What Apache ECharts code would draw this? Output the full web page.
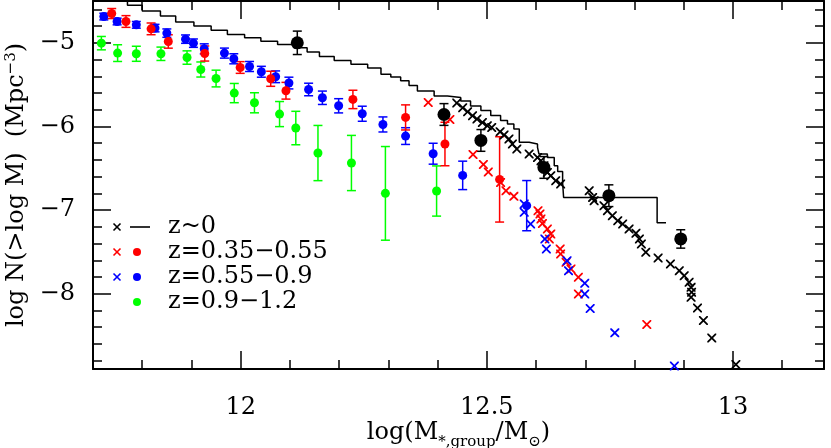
<!DOCTYPE html>
<html>
<head>
<meta charset="utf-8">
<script src="https://cdn.jsdelivr.net/npm/echarts@6/dist/echarts.min.js"></script>
<style>html,body{margin:0;padding:0;background:#fff}#chart{width:831px;height:448px}</style>
</head>
<body>
<div id="chart"></div>
<script>
// axis ranges and ticks
var X_MIN = 11.7, X_MAX = 13.185, Y_MIN = -8.9, Y_MAX = -4.5;
var xMajor = [12, 12.5, 13];
var xMinor = [11.8, 11.9, 12.1, 12.2, 12.3, 12.4, 12.6, 12.7, 12.8, 12.9, 13.1];
var yMajor = [-8, -7, -6, -5];
var yMinor = [-8.8, -8.6, -8.4, -8.2, -7.8, -7.6, -7.4, -7.2, -6.8, -6.6, -6.4, -6.2, -5.8, -5.6, -5.4, -5.2, -4.8, -4.6];

// z~0 cumulative step curve
var stepZ0 = [[11.70,-4.45],[11.736,-4.50],[11.77,-4.55],[11.80,-4.62],[11.837,-4.68],[11.868,-4.75],[11.905,-4.80],[11.94,-4.85],[11.973,-4.90],[12.008,-4.94],[12.041,-4.98],[12.075,-5.02],[12.108,-5.06],[12.135,-5.11],[12.16,-5.165],[12.19,-5.21],[12.224,-5.255],[12.258,-5.30],[12.285,-5.375],[12.305,-5.41],[12.325,-5.455],[12.342,-5.51],[12.359,-5.575],[12.393,-5.635],[12.42,-5.655],[12.447,-5.695],[12.467,-5.755],[12.488,-5.81],[12.508,-5.87],[12.528,-5.93],[12.542,-5.97],[12.555,-6.03],[12.566,-6.19],[12.586,-6.21],[12.603,-6.25],[12.606,-6.33],[12.623,-6.37],[12.637,-6.47],[12.644,-6.54],[12.654,-6.67],[12.656,-6.85],[12.846,-7.15],[12.864,-7.15]];

// crosses
var crossZ0 = [[12.439,-5.720],[12.451,-5.777],[12.461,-5.824],[12.471,-5.872],[12.480,-5.912],[12.491,-5.952],[12.501,-5.992],[12.510,-6.012],[12.527,-6.063],[12.535,-6.103],[12.545,-6.151],[12.552,-6.210],[12.561,-6.270],[12.586,-6.330],[12.603,-6.370],[12.610,-6.410],[12.616,-6.470],[12.623,-6.550],[12.630,-6.589],[12.640,-6.649],[12.650,-6.688],[12.708,-6.768],[12.715,-6.848],[12.718,-6.888],[12.738,-6.947],[12.745,-7.007],[12.755,-7.067],[12.766,-7.127],[12.776,-7.166],[12.789,-7.226],[12.803,-7.278],[12.810,-7.345],[12.814,-7.405],[12.823,-7.505],[12.848,-7.572],[12.873,-7.644],[12.891,-7.724],[12.901,-7.784],[12.911,-7.864],[12.915,-7.924],[12.916,-7.983],[12.915,-8.043],[12.928,-8.170],[12.940,-8.321],[12.957,-8.528],[13.006,-8.847]];
var crossLow = [[12.381,-5.713],[12.425,-5.916],[12.472,-6.335],[12.493,-6.454],[12.503,-6.545],[12.528,-6.669],[12.539,-6.768],[12.555,-6.836],[12.604,-7.007],[12.608,-7.047],[12.610,-7.106],[12.613,-7.159],[12.623,-7.226],[12.630,-7.286],[12.627,-7.345],[12.649,-7.465],[12.650,-7.525],[12.661,-7.625],[12.671,-7.704],[12.686,-7.804],[12.686,-8.002],[12.825,-8.369]];
var crossMid = [[12.576,-6.927],[12.576,-7.027],[12.589,-7.166],[12.618,-7.345],[12.621,-7.465],[12.663,-7.605],[12.666,-7.724],[12.699,-7.876],[12.699,-8.002],[12.710,-8.178],[12.760,-8.468],[12.881,-8.863]];

// filled points: [x, y, error]
var ptsZ0 = [[12.115,-5.00,0.14],[12.413,-5.857,0.13],[12.488,-6.167,0.13],[12.616,-6.49,0.13],[12.748,-6.828,0.13],[12.894,-7.345,0.11]];
var ptsLow = [[11.738,-4.650,0.06],[11.767,-4.745,0.07],[11.818,-4.833,0.07],[11.853,-4.984,0.08],[11.927,-5.128,0.09],[11.999,-5.295,0.07],[12.061,-5.430,0.09],[12.092,-5.573,0.10],[12.228,-5.677,0.11],[12.335,-5.892,0.15],[12.415,-6.210,0.26],[12.526,-6.633,0.51]];
var ptsMid = [[11.722,-4.686,0.04],[11.749,-4.745,0.04],[11.788,-4.785,0.04],[11.826,-4.824,0.045],[11.850,-4.884,0.05],[11.888,-4.956,0.05],[11.904,-5.004,0.05],[11.926,-5.072,0.06],[11.967,-5.123,0.06],[11.986,-5.191,0.06],[12.018,-5.283,0.06],[12.042,-5.346,0.065],[12.071,-5.406,0.07],[12.098,-5.481,0.07],[12.138,-5.558,0.075],[12.166,-5.657,0.08],[12.199,-5.753,0.085],[12.247,-5.848,0.09],[12.289,-5.976,0.09],[12.335,-6.115,0.10],[12.391,-6.326,0.125],[12.451,-6.585,0.17],[12.581,-6.947,0.30]];
var ptsHigh = [[11.717,-5.004,0.08],[11.750,-5.123,0.10],[11.788,-5.131,0.09],[11.838,-5.131,0.08],[11.891,-5.176,0.08],[11.919,-5.319,0.09],[11.950,-5.427,0.10],[11.987,-5.601,0.115],[12.028,-5.717,0.12],[12.079,-5.852,0.15],[12.112,-6.019,0.20],[12.157,-6.318,0.33],[12.225,-6.437,0.33],[12.294,-6.800,0.56],[12.398,-6.772,0.30]];

var legendLabels = ['z~0', 'z=0.35\u22120.55', 'z=0.55\u22120.9', 'z=0.9\u22121.2'];

var FONT = '"DejaVu Serif", serif';
var CROSS = 'path://M0,0L1.4,0L5,3.6L8.6,0L10,0L10,1.4L6.4,5L10,8.6L10,10L8.6,10L5,6.4L1.4,10L0,10L0,8.6L3.6,5L0,1.4Z';

function xAx(pos, ticks, len, labels, line) {
  return {
    type: 'value', position: pos, min: X_MIN, max: X_MAX,
    splitLine: { show: false },
    axisLine: { show: line, onZero: false, lineStyle: { color: '#000', width: 2 } },
    axisTick: { show: true, inside: true, length: len, customValues: ticks, lineStyle: { color: '#000', width: 1.5 } },
    axisLabel: labels ? { customValues: xMajor, margin: 27, color: '#000', fontFamily: FONT, fontSize: 24 } : { show: false }
  };
}
function yAx(pos, ticks, len, labels, line) {
  return {
    type: 'value', position: pos, min: Y_MIN, max: Y_MAX,
    splitLine: { show: false },
    axisLine: { show: line, onZero: false, lineStyle: { color: '#000', width: 2 } },
    axisTick: { show: true, inside: true, length: len, customValues: ticks, lineStyle: { color: '#000', width: 1.5 } },
    axisLabel: labels ? { customValues: yMajor, margin: 18, color: '#000', fontFamily: FONT, fontSize: 24,
      formatter: function (v) { return '\u2212' + Math.abs(v); } } : { show: false }
  };
}

function errRender(params, api) {
  var x = api.value(0), y = api.value(1), e = api.value(2);
  var a = api.coord([x, y + e]), b = api.coord([x, y - e]);
  var w = 4.5, st = { stroke: api.visual('color'), lineWidth: 1.5 };
  return { type: 'group', children: [
    { type: 'line', shape: { x1: a[0], y1: a[1], x2: b[0], y2: b[1] }, style: st },
    { type: 'line', shape: { x1: a[0] - w, y1: a[1], x2: a[0] + w, y2: a[1] }, style: st },
    { type: 'line', shape: { x1: b[0] - w, y1: b[1], x2: b[0] + w, y2: b[1] }, style: st }
  ] };
}
function errSeries(data, color) {
  return { type: 'custom', data: data, renderItem: errRender, itemStyle: { color: color }, encode: { x: 0, y: 1 }, clip: true, silent: true };
}
function dotSeries(data, color, size) {
  return { type: 'scatter', data: data.map(function (d) { return [d[0], d[1]]; }), symbol: 'circle', symbolSize: size, itemStyle: { color: color, opacity: 1 }, silent: true };
}
function crossSeries(data, color, size) {
  return { type: 'scatter', data: data, symbol: CROSS, symbolSize: size, itemStyle: { color: color, opacity: 1 }, silent: true };
}

// legend drawn as graphics
var legY = [227, 252, 277, 302];
var legColors = ['#000', '#ff0000', '#0000ff', '#00ff00'];
var graphics = [];
function legCross(cx, cy, c) {
  var s = 3.5;
  graphics.push({ type: 'line', shape: { x1: cx - s, y1: cy - s, x2: cx + s, y2: cy + s }, style: { stroke: c, lineWidth: 1.6 } });
  graphics.push({ type: 'line', shape: { x1: cx - s, y1: cy + s, x2: cx + s, y2: cy - s }, style: { stroke: c, lineWidth: 1.6 } });
}
legendLabels.forEach(function (t, i) {
  var y = legY[i], c = legColors[i];
  if (i < 3) legCross(117, y, c);
  if (i === 0) graphics.push({ type: 'line', shape: { x1: 130, y1: y, x2: 150, y2: y }, style: { stroke: '#000', lineWidth: 1.6 } });
  else graphics.push({ type: 'circle', shape: { cx: 137, cy: y, r: 4 }, style: { fill: c } });
  graphics.push({ type: 'text', x: 168, y: y, style: { text: t, fill: '#000', font: '24px ' + FONT, verticalAlign: 'middle' } });
});

var chart = echarts.init(document.getElementById('chart'));
var xs = [xAx('bottom', xMajor, 18, true, true), xAx('bottom', xMinor, 9, false, false), xAx('top', xMajor, 18, false, true), xAx('top', xMinor, 9, false, false)];
var ys = [yAx('left', yMajor, 18, true, true), yAx('left', yMinor, 9, false, false), yAx('right', yMajor, 18, false, true), yAx('right', yMinor, 9, false, false)];
xs[0].name = '{t|log(M}{s|*,group}{t|/M}{s|\u2299}{t|)}';
xs[0].nameLocation = 'middle';
xs[0].nameGap = 52;
xs[0].nameMoveOverlap = false;
xs[0].nameTextStyle = { rich: { t: { fontFamily: FONT, fontSize: 24, color: '#000', verticalAlign: 'bottom' }, s: { fontFamily: FONT, fontSize: 15, color: '#000', verticalAlign: 'bottom', padding: [0, 0, -5, 0] } } };
ys[0].name = '{t|log N(>log M)  (Mpc}{p|\u22123}{t|)}';
ys[0].nameLocation = 'middle';
ys[0].nameGap = 64;
ys[0].nameMoveOverlap = false;
ys[0].nameTextStyle = { rich: { t: { fontFamily: FONT, fontSize: 24, color: '#000' }, p: { fontFamily: FONT, fontSize: 15, color: '#000', padding: [0, 0, 10, 0] } } };

chart.setOption({
  animation: false,
  backgroundColor: '#fff',
  grid: { left: 93, right: 7, top: 1, bottom: 79, outerBoundsMode: 'none' },
  xAxis: xs,
  yAxis: ys,
  graphic: graphics,
  series: [
    { type: 'line', data: stepZ0, step: 'end', symbol: 'none', lineStyle: { color: '#000', width: 1.5 }, clip: true, silent: true },
    crossSeries(crossZ0, '#000', 9),
    crossSeries(crossLow, '#ff0000', 9),
    crossSeries(crossMid, '#0000ff', 9),
    errSeries(ptsHigh, '#00ff00'),
    errSeries(ptsMid, '#0000ff'),
    errSeries(ptsLow, '#ff0000'),
    errSeries(ptsZ0, '#000'),
    dotSeries(ptsHigh, '#00ff00', 9),
    dotSeries(ptsMid, '#0000ff', 9),
    dotSeries(ptsLow, '#ff0000', 9),
    dotSeries(ptsZ0, '#000', 13)
  ]
});
</script>
</body>
</html>
